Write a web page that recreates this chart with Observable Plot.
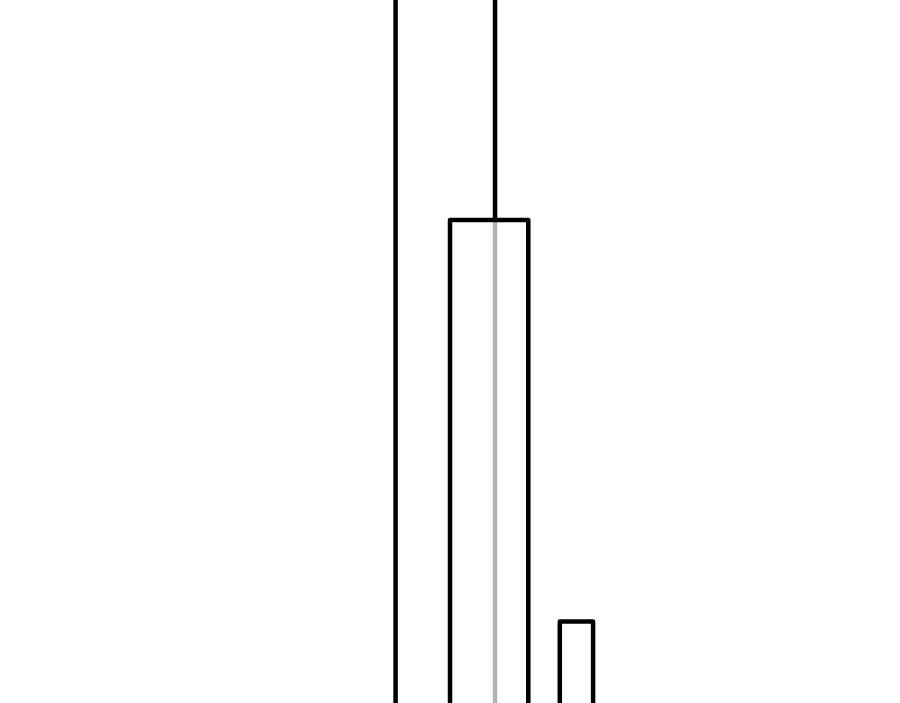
<!DOCTYPE html>
<html>
<head>
<meta charset="utf-8">
<script src="https://cdn.jsdelivr.net/npm/d3@7"></script>
<script src="https://cdn.jsdelivr.net/npm/@observablehq/plot@0.6"></script>
<style>
  html, body { margin: 0; padding: 0; background: #fff; }
  #chart svg { display: block; }
</style>
</head>
<body>
<div id="chart"></div>
<script>
// Boxes (values in chart units)
const boxX1 = [50, 62.2];
const boxX2 = [58.7, 65.9];
const boxTop = [68.7, 11.6];
const boxBottom = [-10, -10];

// Black vertical rules (whiskers)
const ruleX = [43.9, 54.95];
const ruleLow = [-10, 68.7];
const ruleHigh = [120, 120];

// Grey inner line
const innerX = [54.95];
const innerLow = [-10];
const innerHigh = [68.7];

const boxes = boxX1.map((d, i) => ({x1: d, x2: boxX2[i], y1: boxBottom[i], y2: boxTop[i]}));
const rules = ruleX.map((d, i) => ({x: d, y1: ruleLow[i], y2: ruleHigh[i]}));
const inner = innerX.map((d, i) => ({x: d, y1: innerLow[i], y2: innerHigh[i]}));

const chart = Plot.plot({
  width: 900,
  height: 703,
  margin: 0,
  x: {domain: [0, 100], axis: null},
  y: {domain: [0, 100], axis: null},
  marks: [
    Plot.ruleX(inner, {x: "x", y1: "y1", y2: "y2", stroke: "#b3b3b3", strokeWidth: 4.5, clip: true}),
    Plot.ruleX(rules, {x: "x", y1: "y1", y2: "y2", stroke: "#000", strokeWidth: 4.5, clip: true}),
    Plot.rect(boxes, {x1: "x1", x2: "x2", y1: "y1", y2: "y2", fill: "none", stroke: "#000", strokeWidth: 4.5, strokeLinejoin: "round", clip: true})
  ]
});
document.getElementById("chart").appendChild(chart);
</script>
</body>
</html>
